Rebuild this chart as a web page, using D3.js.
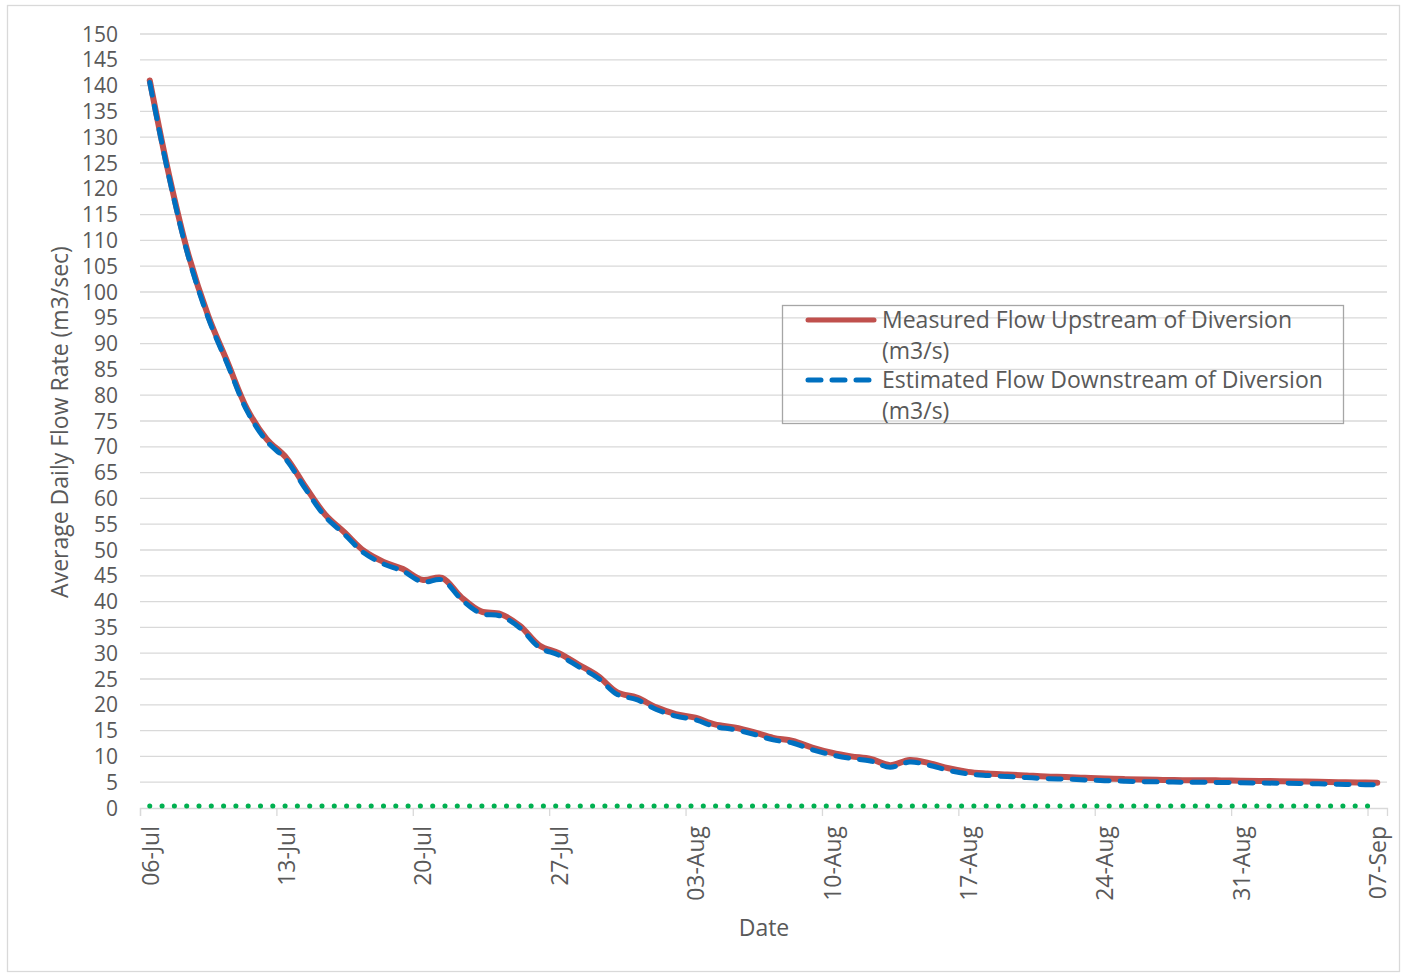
<!DOCTYPE html>
<html>
<meta charset="utf-8">
<style>
  body { margin: 0; background: #fff; }
  text { font-family: "Open Sans", sans-serif; fill: #595959; }
</style>
<body>
<div id="viz"></div>
<script src="https://d3js.org/d3.v7.min.js"></script>
<script>
// flows in m3/s, one value per day starting 06-Jul
var startDay = new Date(2020, 6, 6);
var upstream = [141.0, 122.5, 107.0, 95.4, 86.3, 77.3, 71.5, 67.9, 62.2, 56.9,
  53.4, 49.8, 47.7, 46.3, 44.2, 44.6, 40.8, 38.1, 37.6, 35.3,
  31.5, 30.0, 27.8, 25.6, 22.4, 21.4, 19.5, 18.2, 17.5, 16.2,
  15.6, 14.7, 13.6, 13.0, 11.7, 10.7, 10.0, 9.5, 8.3, 9.3,
  8.7, 7.7, 7.0, 6.7, 6.5, 6.3, 6.1, 6.0, 5.85, 5.7,
  5.6, 5.5, 5.45, 5.4, 5.4, 5.35, 5.3, 5.25, 5.2, 5.15,
  5.1, 5.0, 4.95, 4.9];
var downstream = [140.6, 122.1, 106.6, 95.0, 85.9, 76.9, 71.1, 67.5, 61.8, 56.5,
  53.0, 49.4, 47.3, 45.9, 43.8, 44.2, 40.4, 37.7, 37.2, 34.9,
  31.1, 29.6, 27.4, 25.2, 22.0, 21.0, 19.1, 17.8, 17.1, 15.8,
  15.2, 14.3, 13.2, 12.6, 11.3, 10.3, 9.6, 9.1, 7.9, 8.9,
  8.3, 7.3, 6.6, 6.3, 6.1, 5.9, 5.7, 5.6, 5.45, 5.3,
  5.2, 5.1, 5.05, 5.0, 5.0, 4.95, 4.9, 4.85, 4.8, 4.75,
  4.7, 4.6, 4.55, 4.5];
var diversion = [0.4, 0.4, 0.4, 0.4, 0.4, 0.4, 0.4, 0.4, 0.4, 0.4,
  0.4, 0.4, 0.4, 0.4, 0.4, 0.4, 0.4, 0.4, 0.4, 0.4,
  0.4, 0.4, 0.4, 0.4, 0.4, 0.4, 0.4, 0.4, 0.4, 0.4,
  0.4, 0.4, 0.4, 0.4, 0.4, 0.4, 0.4, 0.4, 0.4, 0.4,
  0.4, 0.4, 0.4, 0.4, 0.4, 0.4, 0.4, 0.4, 0.4, 0.4,
  0.4, 0.4, 0.4, 0.4, 0.4, 0.4, 0.4, 0.4, 0.4, 0.4,
  0.4, 0.4, 0.4, 0.4];
var yTicks = d3.range(0, 151, 5);
var legendLabels = [["Measured Flow Upstream of Diversion", "(m3/s)"],
                    ["Estimated Flow Downstream of Diversion", "(m3/s)"]];

var W = 1402, H = 974;
var plotL = 140, plotR = 1387, plotT = 34, plotB = 808;

var svg = d3.select("#viz").append("svg")
  .attr("width", W).attr("height", H);

// chart border
svg.append("rect")
  .attr("x", 7.5).attr("y", 5.5)
  .attr("width", 1392).attr("height", 966)
  .attr("fill", "none").attr("stroke", "#d9d9d9").attr("stroke-width", 1.3);

var days = upstream.map(function(d, i) { return d3.timeDay.offset(startDay, i); });
var x = d3.scaleTime()
  .domain([startDay, d3.timeDay.offset(startDay, days.length)])
  .range([plotL, plotR]);
var y = d3.scaleLinear().domain([0, 150]).range([plotB, plotT]);

// gridlines
svg.append("g").selectAll("line")
  .data(yTicks.filter(function(t) { return t > 0; }))
  .enter().append("line")
  .attr("x1", plotL).attr("x2", plotR)
  .attr("y1", function(d) { return y(d); })
  .attr("y2", function(d) { return y(d); })
  .attr("stroke", "#d9d9d9").attr("stroke-width", 1.3);

// y axis labels
svg.append("g").selectAll("text")
  .data(yTicks).enter().append("text")
  .attr("x", 118)
  .attr("y", function(d) { return y(d); })
  .attr("dy", "0.36em")
  .attr("text-anchor", "end")
  .style("font-size", "21px")
  .text(function(d) { return d; });

// x axis, a tick every 7 days
var xTicks = d3.range(0, days.length, 7).map(function(i) { return days[i]; });
var xAxis = d3.axisBottom(x)
  .tickValues(xTicks)
  .tickSize(8)
  .tickFormat(d3.timeFormat("%d-%b"));
var gx = svg.append("g")
  .attr("transform", "translate(0," + plotB + ")")
  .call(xAxis);
gx.select(".domain").attr("stroke", "#d9d9d9").attr("stroke-width", 1.3);
gx.selectAll(".tick line").attr("stroke", "#d9d9d9").attr("stroke-width", 1.3);
gx.selectAll(".tick text")
  .style("font-size", "23px")
  .style("font-family", "'Open Sans', sans-serif")
  .attr("fill", "#595959")
  .attr("text-anchor", "end")
  .attr("dy", "0.35em")
  .attr("transform", "translate(10,18) rotate(-90)")
  .attr("x", 0).attr("y", 0);

// axis titles
svg.append("text")
  .attr("transform", "translate(60,422) rotate(-90)")
  .attr("text-anchor", "middle").attr("dy", "0.35em")
  .style("font-size", "23px")
  .text("Average Daily Flow Rate (m3/sec)");
svg.append("text")
  .attr("x", 764).attr("y", 928)
  .attr("text-anchor", "middle").attr("dy", "0.35em")
  .style("font-size", "23px")
  .text("Date");

// series, points sit in the middle of each day
var mid = function(i) { return x(d3.timeHour.offset(days[i], 12)); };
function lineFor(vals) {
  return d3.line()
    .x(function(d, i) { return mid(i); })
    .y(function(d) { return y(d); })
    .curve(d3.curveCatmullRom.alpha(0.5))(vals);
}

svg.append("path")
  .attr("d", lineFor(diversion))
  .attr("fill", "none").attr("stroke", "#00b050")
  .attr("stroke-width", 5).attr("stroke-linecap", "round")
  .attr("stroke-dasharray", "0.1 12.2");

svg.append("path")
  .attr("d", lineFor(upstream))
  .attr("fill", "none").attr("stroke", "#c0504d")
  .attr("stroke-width", 6).attr("stroke-linecap", "round")
  .attr("stroke-linejoin", "round");

svg.append("path")
  .attr("d", lineFor(downstream))
  .attr("fill", "none").attr("stroke", "#0070c0")
  .attr("stroke-width", 5).attr("stroke-linecap", "round")
  .attr("stroke-dasharray", "13 11");

// legend (no fill, gridlines show through)
var lg = svg.append("g");
lg.append("rect")
  .attr("x", 782.5).attr("y", 305.5)
  .attr("width", 561).attr("height", 118)
  .attr("fill", "none").attr("stroke", "#a6a6a6").attr("stroke-width", 1.3);
lg.append("line")
  .attr("x1", 808).attr("x2", 874).attr("y1", 320).attr("y2", 320)
  .attr("stroke", "#c0504d").attr("stroke-width", 5).attr("stroke-linecap", "round");
lg.append("line")
  .attr("x1", 808).attr("x2", 874).attr("y1", 380).attr("y2", 380)
  .attr("stroke", "#0070c0").attr("stroke-width", 5).attr("stroke-linecap", "round")
  .attr("stroke-dasharray", "13 11");
legendLabels.forEach(function(lines, k) {
  lines.forEach(function(t, j) {
    lg.append("text")
      .attr("x", 882).attr("y", 320 + k * 60 + j * 30.5)
      .attr("dy", "0.35em")
      .style("font-size", "23px")
      .text(t);
  });
});
</script>
</body>
</html>
